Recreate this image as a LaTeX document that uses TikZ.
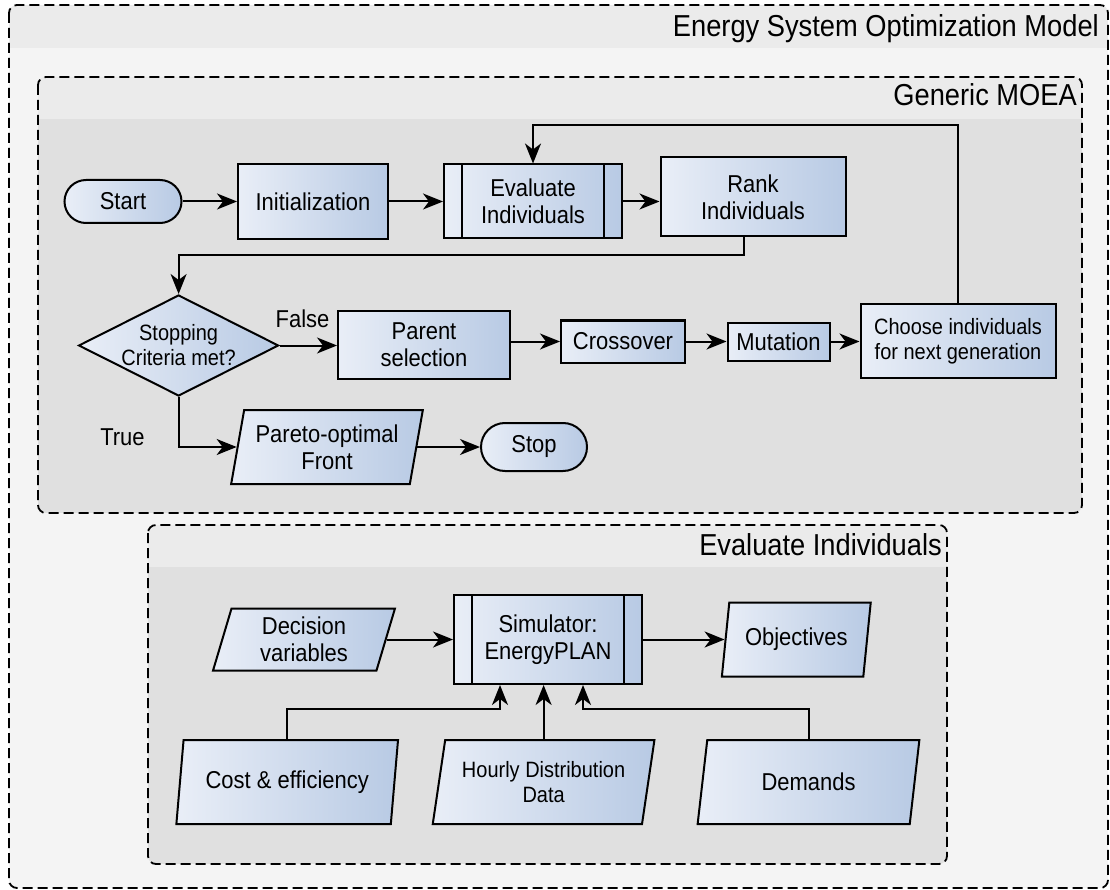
\documentclass[tikz,border=0pt]{standalone}
\usepackage{fontspec}
\setmainfont{Liberation Sans}[FakeStretch=0.9]
\usetikzlibrary{shapes.geometric,shapes.misc,arrows.meta}
\definecolor{nodeL}{HTML}{E9EEF7}
\definecolor{nodeR}{HTML}{B8CAE4}
\definecolor{outerbg}{HTML}{F4F4F4}
\definecolor{hdr}{HTML}{EBEBEB}
\definecolor{innerbg}{HTML}{E0E0E0}
\begin{document}
\begin{tikzpicture}[x=1pt,y=-1pt,
  base/.style={draw=black, line width=2pt, left color=nodeL, right color=nodeR,
    inner sep=0pt, align=center, font=\fontsize{24.4}{27}\selectfont},
  box/.style={base, rectangle},
  term/.style={base, rounded rectangle},
  decide/.style={base, diamond, aspect=2, font=\fontsize{22.2}{25}\selectfont},
  para/.style={base, trapezium, trapezium left angle=76, trapezium right angle=104,
    trapezium stretches=true},
  small/.style={font=\fontsize{22.2}{25}\selectfont},
  lbl/.style={inner sep=0pt, font=\fontsize{24.4}{27}\selectfont},
  ttl/.style={inner sep=0pt, anchor=base east, font=\fontsize{30.3}{34}\selectfont},
  dbox/.style={draw=black, line width=1.8pt, dash pattern=on 10pt off 5pt, rounded corners=8pt},
  arr/.style={line width=2pt, -{Stealth[length=20pt,width=16pt,inset=6pt]}},
  bar/.style={line width=2pt}
]
\useasboundingbox (0,0) rectangle (1110,890);
\fill[white] (0,0) rectangle (1110,890);

% outer container
\begin{scope}
  \clip[rounded corners=8pt] (9,5) rectangle (1108,888);
  \fill[outerbg] (9,5) rectangle (1108,888);
  \fill[hdr] (9,5) rectangle (1108,48);
\end{scope}
\draw[dbox] (9,5) rectangle (1108,888);
\node[ttl] (t1) at (1099,37) {Energy System Optimization Model};

% Generic MOEA container
\begin{scope}
  \clip[rounded corners=8pt] (38,77) rectangle (1082,513);
  \fill[innerbg] (38,77) rectangle (1082,513);
  \fill[hdr] (38,77) rectangle (1082,119);
\end{scope}
\draw[dbox] (38,77) rectangle (1082,513);
\node[ttl] (t2) at (1077,106) {Generic MOEA};

% Evaluate Individuals container
\begin{scope}
  \clip[rounded corners=8pt] (148,525) rectangle (947,864);
  \fill[innerbg] (148,525) rectangle (947,864);
  \fill[hdr] (148,525) rectangle (947,567);
\end{scope}
\draw[dbox] (148,525) rectangle (947,864);
\node[ttl] (t3) at (942,555) {Evaluate Individuals};

% MOEA nodes
\node[term, minimum width=117pt, minimum height=43pt] (start) at (123,201.5) {Start};
\node[box, minimum width=150pt, minimum height=75pt] (init) at (313,201.5) {Initialization};
\node[box, minimum width=178pt, minimum height=74pt] (evalp) at (533,201.5) {Evaluate\\Individuals};
\draw[bar] ([xshift=19pt]evalp.north west) -- ([xshift=19pt]evalp.south west);
\draw[bar] ([xshift=-19pt]evalp.north east) -- ([xshift=-19pt]evalp.south east);
\node[box, minimum width=185pt, minimum height=79pt] (rank) at (753,197) {Rank\\Individuals};
\node[decide, minimum width=200pt, minimum height=101pt] (dia) at (178.6,345.5) {Stopping\\Criteria met?};
\node[box, minimum width=172pt, minimum height=68pt] (parent) at (424,345) {Parent\\selection};
\node[box, minimum width=124pt, minimum height=42pt] (cross) at (623,341.5) {Crossover};
\node[box, minimum width=102pt, minimum height=38pt] (mut) at (778.5,341.5) {Mutation};
\node[box, small, minimum width=195pt, minimum height=73pt] (choose) at (958,341) {Choose individuals\\for next generation};
\node[para, minimum width=192pt, minimum height=74pt] (pareto) at (327,447) {Pareto-optimal\\Front};
\node[term, minimum width=106pt, minimum height=48pt] (stop) at (534,447) {Stop};
\node[lbl] (lfalse) at (302.5,319) {False};
\node[lbl] (ltrue) at (122.5,437) {True};

% Evaluate Individuals nodes
\node[para, minimum width=182pt, minimum height=62pt] (decision) at (304,639.5) {Decision\\variables};
\node[box, minimum width=188pt, minimum height=89pt] (sim) at (548,639.5) {Simulator:\\EnergyPLAN};
\draw[bar] ([xshift=19pt]sim.north west) -- ([xshift=19pt]sim.south west);
\draw[bar] ([xshift=-19pt]sim.north east) -- ([xshift=-19pt]sim.south east);
\node[para, minimum width=149pt, minimum height=74pt] (obj) at (796.3,639.5) {Objectives};
\node[para, minimum width=222pt, minimum height=84pt] (cost) at (287.2,782) {Cost \& efficiency};
\node[para, small, minimum width=222pt, minimum height=84pt] (hourly) at (543.6,782) {Hourly Distribution\\Data};
\node[para, minimum width=222pt, minimum height=84pt] (demands) at (808.5,782) {Demands};

% connectors MOEA
\draw[arr] (start.east) -- (init.west);
\draw[arr] (init.east) -- (evalp.west);
\draw[arr] (evalp.east) -- (evalp.east -| rank.west);
\coordinate (r1) at (744,255);
\draw[arr] (r1 |- rank.south) -- (r1) -| (dia.north);
\draw[arr] (dia.east) -- (dia.east -| parent.west);
\draw[arr] (cross.west -| parent.east) -- (cross.west);
\draw[arr] (cross.east) -- (mut.west);
\draw[arr] (mut.east) -- (mut.east -| choose.west);
\coordinate (fb) at (533,125);
\draw[arr] (choose.north) |- (fb) -- (evalp.north);
\draw[arr] (dia.south) |- (pareto.left side);
\draw[arr] (pareto.right side) -- (stop.west);

% connectors Evaluate Individuals
\draw[arr] (decision.right side) -- (decision.right side -| sim.west);
\draw[arr] (sim.east) -- (obj.left side);
\coordinate (j1) at (500,709.3);
\coordinate (j2) at (583,709.3);
\draw[arr] (cost.center |- cost.top side) |- (j1) -- (j1 |- sim.south);
\draw[arr] (hourly.center |- hourly.top side) -- (hourly.center |- sim.south);
\draw[arr] (demands.center |- demands.top side) |- (j2) -- (j2 |- sim.south);
\end{tikzpicture}
\end{document}
